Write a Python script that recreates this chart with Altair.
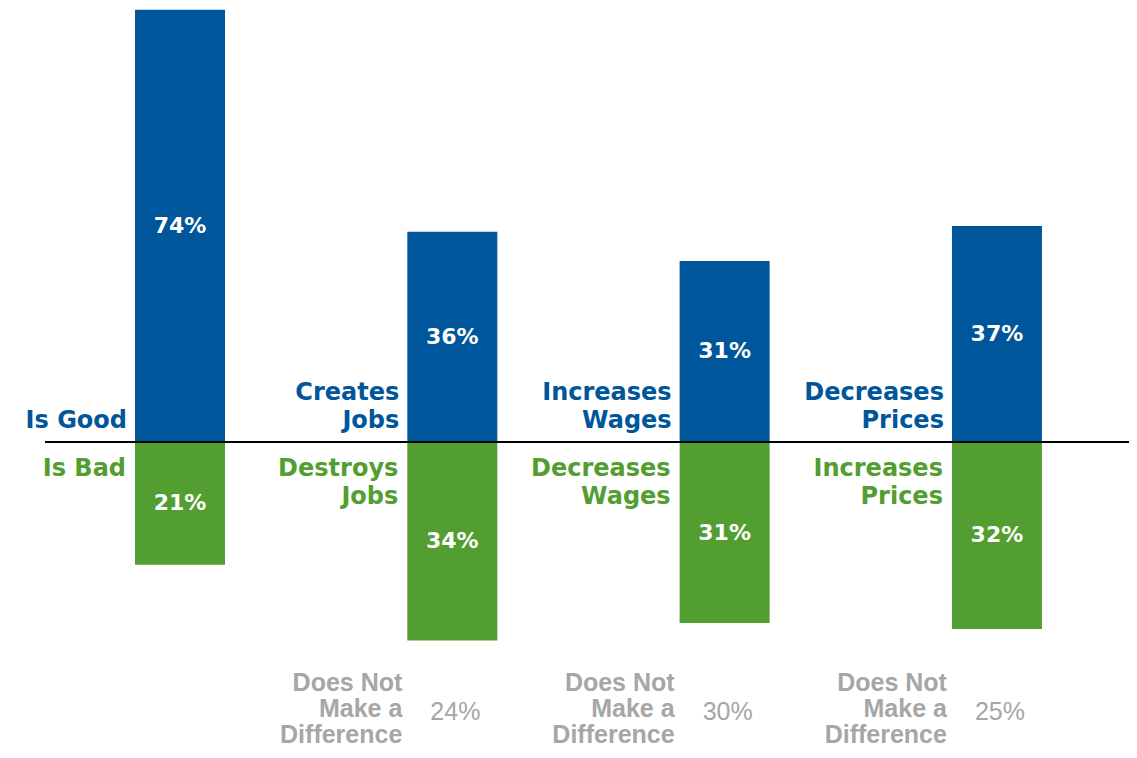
import altair as alt
import pandas as pd

# ---- data ----
group_idx = [0, 1, 2, 3]
pos_labels = ["Is Good", "Creates\nJobs", "Increases\nWages", "Decreases\nPrices"]
neg_labels = ["Is Bad", "Destroys\nJobs", "Decreases\nWages", "Increases\nPrices"]
pos_values = [74, 36, 31, 37]
neg_values = [21, 34, 31, 32]
nd_groups = [1, 2, 3]
nd_values = [24, 30, 25]
nd_label = "Does Not\nMake a\nDifference"

BLUE = "#00569A"
GREEN = "#529E30"
GRAY = "#A6A6A6"
BOLD_FONT = "DejaVu Sans"

bars = pd.DataFrame({
    "idx": group_idx * 2,
    "value": pos_values + [-v for v in neg_values],
    "pct": [f"{v}%" for v in pos_values] + [f"{v}%" for v in neg_values],
    "kind": ["pos"] * 4 + ["neg"] * 4,
})
bars["mid"] = bars["value"] / 2

pos_df = pd.DataFrame({"idx": group_idx, "label": pos_labels, "zero": 0})
pos_df["nlines"] = pos_df["label"].str.count("\n") + 1
neg_df = pd.DataFrame({"idx": group_idx, "label": neg_labels, "zero": 0})
nd_df = pd.DataFrame({"idx": nd_groups, "pct": [f"{v}%" for v in nd_values], "label": nd_label})

H = 742
xscale = alt.Scale(domain=[-0.6317, 3.485], nice=False, zero=False, padding=0)
yscale = alt.Scale(domain=[-(H - 434) / 5.84, 434 / 5.84], nice=False, zero=False)
X = alt.X("idx:Q", scale=xscale, axis=None)
Y0 = alt.Y("zero:Q", scale=yscale, axis=None)

bar_layer = alt.Chart(bars).mark_bar(size=90).encode(
    x=X,
    y=alt.Y("value:Q", scale=yscale, axis=None),
    y2=alt.datum(0),
    color=alt.Color("kind:N", scale=alt.Scale(domain=["pos", "neg"], range=[BLUE, GREEN]), legend=None),
)

val_text = alt.Chart(bars).mark_text(
    font=BOLD_FONT, fontWeight="bold", fontSize=22, color="white", baseline="middle"
).encode(x=X, y=alt.Y("mid:Q", scale=yscale, axis=None), text="pct:N")

zero_rule = alt.Chart(pos_df).mark_rule(color="black", strokeWidth=2).encode(
    x=alt.value(37), x2=alt.value(1125), y=Y0
)

LH = 28
pos_layers = []
for n in sorted(pos_df["nlines"].unique()):
    pos_layers.append(
        alt.Chart(pos_df[pos_df["nlines"] == n]).mark_text(
            font=BOLD_FONT, fontWeight="bold", fontSize=24, color=BLUE, align="right",
            baseline="alphabetic", lineBreak="\n", lineHeight=LH, dx=-53,
            dy=int(-14 - (n - 1) * LH)
        ).encode(x=X, y=Y0, text="label:N")
    )

neg_text = alt.Chart(neg_df).mark_text(
    font=BOLD_FONT, fontWeight="bold", fontSize=24, color=GREEN, align="right",
    baseline="alphabetic", lineBreak="\n", lineHeight=LH, dx=-54, dy=34
).encode(x=X, y=Y0, text="label:N")

nd_text = alt.Chart(nd_df).mark_text(
    font="Liberation Sans", fontWeight="bold", fontSize=25, color=GRAY, align="right",
    baseline="alphabetic", lineBreak="\n", lineHeight=26, dx=-50
).encode(x=X, y=alt.value(683), text="label:N")

nd_pct = alt.Chart(nd_df).mark_text(
    font="Liberation Sans", fontSize=25, color=GRAY, align="left", baseline="middle", dx=-22
).encode(x=X, y=alt.value(704), text="pct:N")

chart = alt.layer(bar_layer, zero_rule, val_text, *pos_layers, neg_text, nd_text, nd_pct).properties(
    width=1121, height=H, padding=0, autosize=alt.AutoSizeParams(type="none")
).configure_view(stroke=None)

chart.save("out.html", embed_options={"renderer": "svg", "actions": False})
